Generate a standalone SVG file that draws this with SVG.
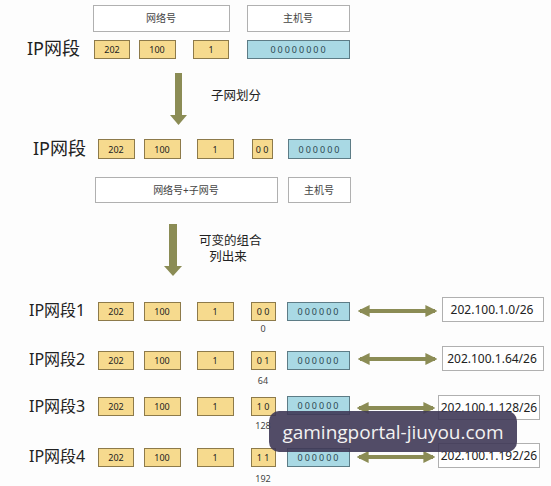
<svg xmlns="http://www.w3.org/2000/svg" width="551" height="486" viewBox="0 0 551 486">
<style>
text{font-family:"Noto Sans","Noto Sans CJK SC",sans-serif;fill:#222}
.lbl{font-size:18px}
.lbl2{font-size:16px}
.y{fill:#f6da8e;stroke:#8d7a4a;stroke-width:1}
.b{fill:#a9d9e4;stroke:#5d7c86;stroke-width:1}
.w{fill:#fff;stroke:#b0b0b0;stroke-width:1}
.t{font-size:9px;text-anchor:middle;dominant-baseline:central}
.bt{font-size:9px;text-anchor:middle;dominant-baseline:central;letter-spacing:2px;fill:#2d4a52}
.ht{font-size:10px;text-anchor:middle;dominant-baseline:central;fill:#444}
.r{font-size:12px;text-anchor:middle;dominant-baseline:central}
.n{font-size:9px;text-anchor:middle;dominant-baseline:central;fill:#444}
.ar{fill:#8b8c55}
.dl{stroke:#8b8c55;stroke-width:4}
.cap{font-size:12.5px}
</style>
<defs>
<marker id="ah" viewBox="0 0 10 10" refX="8" refY="5" markerWidth="3" markerHeight="3.2" orient="auto-start-reverse"><path d="M0,0L10,5L0,10z" fill="#8b8c55"/></marker>
</defs>
<rect width="551" height="486" fill="#fdfdfd"/>

<g id="top-header">
<rect class="w" x="93.5" y="5.5" width="136" height="26"/><text class="ht" x="161" y="18">网络号</text>
<rect class="w" x="247.5" y="5.5" width="102" height="26"/><text class="ht" x="298" y="18">主机号</text>
</g>
<g id="row0">
<text class="lbl" x="27" y="55">IP网段</text>
<rect class="y" x="94.5" y="40.5" width="35" height="18"/><text class="t" x="112" y="49">202</text>
<rect class="y" x="139.5" y="40.5" width="36" height="18"/><text class="t" x="157" y="49">100</text>
<rect class="y" x="193.5" y="40.5" width="35" height="18"/><text class="t" x="211" y="49">1</text>
<rect class="b" x="247.5" y="40.5" width="102" height="18"/><text class="bt" x="299" y="49">00000000</text>
</g>

<g id="row-sub">
<text class="lbl" x="33" y="155">IP网段</text>
<rect class="y" x="98.5" y="139.5" width="36" height="19"/><text class="t" x="116" y="149">202</text>
<rect class="y" x="144.5" y="139.5" width="36" height="19"/><text class="t" x="162" y="149">100</text>
<rect class="y" x="197.5" y="139.5" width="36" height="19"/><text class="t" x="215" y="149">1</text>
<rect class="y" x="252.5" y="139.5" width="20" height="19"/><text class="t" x="262" y="149">0 0</text>
<rect class="b" x="288.5" y="139.5" width="62" height="19"/><text class="bt" x="320" y="149">000000</text>
</g>
<g id="sub-header">
<rect class="w" x="95.5" y="177.5" width="182" height="25"/><text class="ht" x="186" y="190">网络号+子网号</text>
<rect class="w" x="288.5" y="177.5" width="62" height="25"/><text class="ht" x="319" y="190">主机号</text>
</g>

<g id="rows">
<g id="row1">
<text class="lbl2" x="29" y="316">IP网段1</text>
<rect class="y" x="98.5" y="302.5" width="35" height="18"/><text class="t" x="116" y="311">202</text>
<rect class="y" x="144.5" y="302.5" width="36" height="18"/><text class="t" x="162" y="311">100</text>
<rect class="y" x="197.5" y="302.5" width="36" height="18"/><text class="t" x="215" y="311">1</text>
<rect class="y" x="251.5" y="302.5" width="24" height="18"/><text class="t" x="263" y="311">0 0</text>
<rect class="b" x="287.5" y="302.5" width="62" height="18"/><text class="bt" x="319" y="311">000000</text>
<text class="n" x="263" y="328">0</text>
<rect class="w" x="442.5" y="297.5" width="101" height="24"/><text class="r" x="492" y="309">202.100.1.0/26</text>
</g>
<g id="row2">
<text class="lbl2" x="29" y="365">IP网段2</text>
<rect class="y" x="98.5" y="351.5" width="35" height="18"/><text class="t" x="116" y="360">202</text>
<rect class="y" x="144.5" y="351.5" width="36" height="18"/><text class="t" x="162" y="360">100</text>
<rect class="y" x="197.5" y="351.5" width="36" height="18"/><text class="t" x="215" y="360">1</text>
<rect class="y" x="251.5" y="351.5" width="24" height="18"/><text class="t" x="263" y="360">0 1</text>
<rect class="b" x="287.5" y="351.5" width="62" height="18"/><text class="bt" x="319" y="360">000000</text>
<text class="n" x="263" y="380">64</text>
<rect class="w" x="442.5" y="346.5" width="101" height="24"/><text class="r" x="492" y="358">202.100.1.64/26</text>
</g>
<g id="row3">
<text class="lbl2" x="29" y="412">IP网段3</text>
<rect class="y" x="98.5" y="397.5" width="35" height="18"/><text class="t" x="116" y="406">202</text>
<rect class="y" x="144.5" y="397.5" width="36" height="18"/><text class="t" x="162" y="406">100</text>
<rect class="y" x="197.5" y="397.5" width="36" height="18"/><text class="t" x="215" y="406">1</text>
<rect class="y" x="251.5" y="397.5" width="24" height="18"/><text class="t" x="263" y="406">1 0</text>
<rect class="b" x="287.5" y="396.5" width="62" height="18"/><text class="bt" x="319" y="405">000000</text>
<text class="n" x="263" y="425">128</text>
<rect class="w" x="438.5" y="395.5" width="101" height="24"/><text class="r" x="489" y="407">202.100.1.128/26</text>
</g>
<g id="row4">
<text class="lbl2" x="29" y="462">IP网段4</text>
<rect class="y" x="98.5" y="448.5" width="35" height="18"/><text class="t" x="116" y="457">202</text>
<rect class="y" x="144.5" y="448.5" width="36" height="18"/><text class="t" x="162" y="457">100</text>
<rect class="y" x="197.5" y="448.5" width="36" height="18"/><text class="t" x="215" y="457">1</text>
<rect class="y" x="251.5" y="448.5" width="24" height="18"/><text class="t" x="263" y="457">1 1</text>
<rect class="b" x="287.5" y="448.5" width="62" height="18"/><text class="bt" x="319" y="457">000000</text>
<text class="n" x="263" y="478">192</text>
<rect class="w" x="438.5" y="443.5" width="101" height="24"/><text class="r" x="489" y="455">202.100.1.192/26</text>
</g>
</g>

<g id="connectors">
<rect class="ar" x="175" y="73" width="7" height="43"/>
<polygon class="ar" points="170,115 187,115 178.5,125"/>
<text class="cap" x="211" y="100">子网划分</text>
<rect class="ar" x="169" y="224" width="8" height="43"/>
<polygon class="ar" points="164,266 182,266 173,276"/>
<text class="cap" x="199" y="245">可变的组合</text>
<text class="cap" x="228" y="261" text-anchor="middle">列出来</text>
<line class="dl" x1="360" y1="311" x2="435" y2="311" marker-start="url(#ah)" marker-end="url(#ah)"/>
<line class="dl" x1="360" y1="359" x2="435" y2="359" marker-start="url(#ah)" marker-end="url(#ah)"/>
<line class="dl" x1="359" y1="408" x2="433" y2="408" marker-start="url(#ah)" marker-end="url(#ah)"/>
<line class="dl" x1="359" y1="457" x2="433" y2="457" marker-start="url(#ah)" marker-end="url(#ah)"/>
</g>

<g id="overlay">
<rect x="269" y="411" width="248" height="41" rx="10" fill="#3f3956" fill-opacity="0.9"/>
<text x="393" y="439" text-anchor="middle" style="font-family:'Open Sans',sans-serif;font-size:19px;fill:#f2f2f2">gamingportal-jiuyou.com</text>
</g>
</svg>
